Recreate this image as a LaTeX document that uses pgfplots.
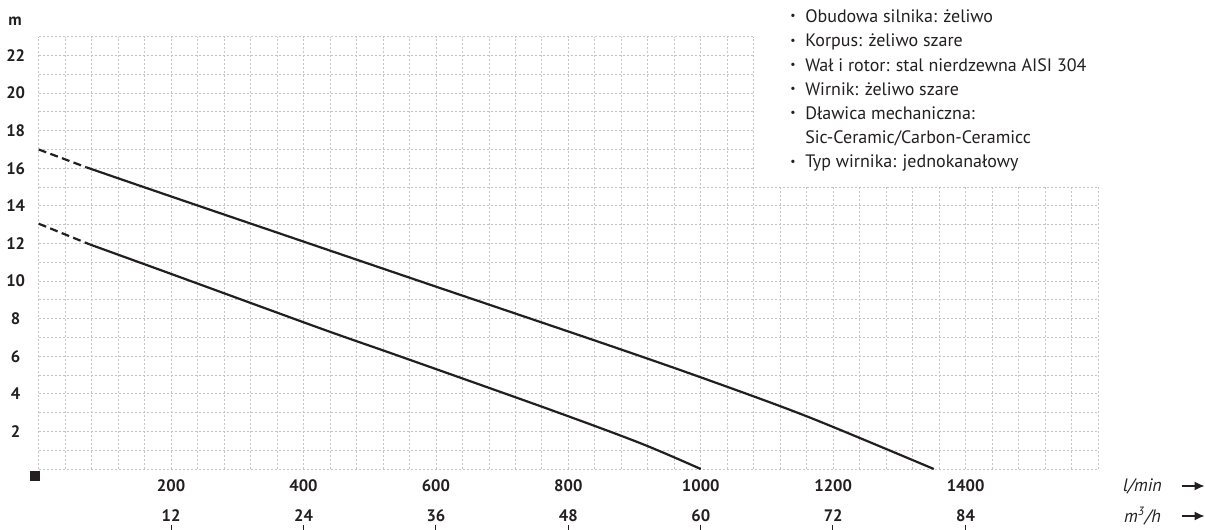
\documentclass[border=0pt]{standalone}
\usepackage{fontspec}
\setmainfont{PT Sans}
\usepackage{graphicx}
\usepackage{pgfplots}
\pgfplotsset{compat=1.18}
\usetikzlibrary{arrows.meta}
\definecolor{ink}{HTML}{231F20}
\definecolor{gridc}{HTML}{C4C4C4}
\newcommand{\bul}{\makebox[7.5pt][l]{\raisebox{0.3ex}{\scalebox{0.65}{\textbullet}}}}

\begin{document}
\begin{tikzpicture}
\useasboundingbox (-19.35pt,-30.5pt) rectangle (583.15pt,234.5pt);
\begin{axis}[
  width=529.65pt, height=216.15pt, scale only axis,
  xmin=0, xmax=1600, ymin=0, ymax=23,
  axis line style={draw=none},
  xtick={200,400,...,1400},
  minor xtick={0,40,...,1600},
  ytick={2,4,...,22},
  minor ytick={0,1,...,23},
  major tick length=0pt, minor tick length=0pt,
  grid=both,
  grid style={gridc, line width=0.4pt, dash pattern=on 0.9pt off 1.1pt},
  tick label style={font=\fontsize{8.3}{10}\selectfont\bfseries, text=ink},
  /pgf/number format/assume math mode=true,
  /pgf/number format/1000 sep={},
  xticklabel style={anchor=center, yshift=-8.5pt},
  yticklabel style={anchor=center, xshift=-11.5pt},
  extra x ticks={200,400,...,1400},
  extra x tick labels={12,24,36,48,60,72,84},
  extra x tick style={grid=none, xticklabel style={yshift=-15pt}},
  clip=false,
]
% upper curve
\addplot[ink, line width=1.1pt, dash pattern=on 4pt off 2.2pt] coordinates {(0,17.0) (72,16.05)};
\addplot[ink, line width=1.1pt, smooth, tension=0.5] coordinates {
  (72,16.05) (200,14.5) (400,12.1) (591,9.81) (848,6.74)
  (999,4.89) (1161,2.79) (1352,0)};
% lower curve
\addplot[ink, line width=1.1pt, dash pattern=on 4pt off 2.2pt] coordinates {(0,13.05) (77,11.95)};
\addplot[ink, line width=1.1pt, smooth, tension=0.5] coordinates {
  (77,11.95) (200,10.38) (428,7.45) (546,5.99) (773,3.15)
  (909,1.37) (1000,0)};
\end{axis}
% white box behind the spec list
\fill[white] (358.3pt,141.6pt) rectangle (536pt,236pt);
\node[anchor=north west, inner sep=0pt, align=left, text=ink,
      font=\fontsize{9}{12.1}\selectfont] at (375.6pt,229.8pt) {%
  \bul Obudowa silnika: żeliwo\\
  \bul Korpus: żeliwo szare\\
  \bul Wał i rotor: stal nierdzewna AISI 304\\
  \bul Wirnik: żeliwo szare\\
  \bul Dławica mechaniczna:\\
  \makebox[7.5pt][l]{}Sic-Ceramic/Carbon-Ceramicc\\
  \bul Typ wirnika: jednokanałowy};
% axis decorations
\node[font=\fontsize{8.3}{10}\selectfont\bfseries, text=ink] at (-11.85pt,224pt) {m};
\fill[ink] (-4.35pt,-6pt) rectangle (0.65pt,-1pt);
\node[font=\fontsize{9}{10}\selectfont\itshape, text=ink] at (551.9pt,-8.5pt) {l/min};
\node[font=\fontsize{9}{10}\selectfont\itshape, text=ink] at (551.9pt,-23.5pt) {m\textsuperscript{3}/h};
\draw[ink, line width=0.9pt, -{Latex[length=5pt,width=4.5pt]}] (571.5pt,-8.5pt) -- (583pt,-8.5pt);
\draw[ink, line width=0.9pt, -{Latex[length=5pt,width=4.5pt]}] (571.5pt,-23.5pt) -- (583pt,-23.5pt);
\foreach \x in {200,400,...,1400}
  \draw[ink, line width=0.4pt] (\x*0.33085pt,-28.2pt) -- ++(0,-3pt);
\end{tikzpicture}
\end{document}
